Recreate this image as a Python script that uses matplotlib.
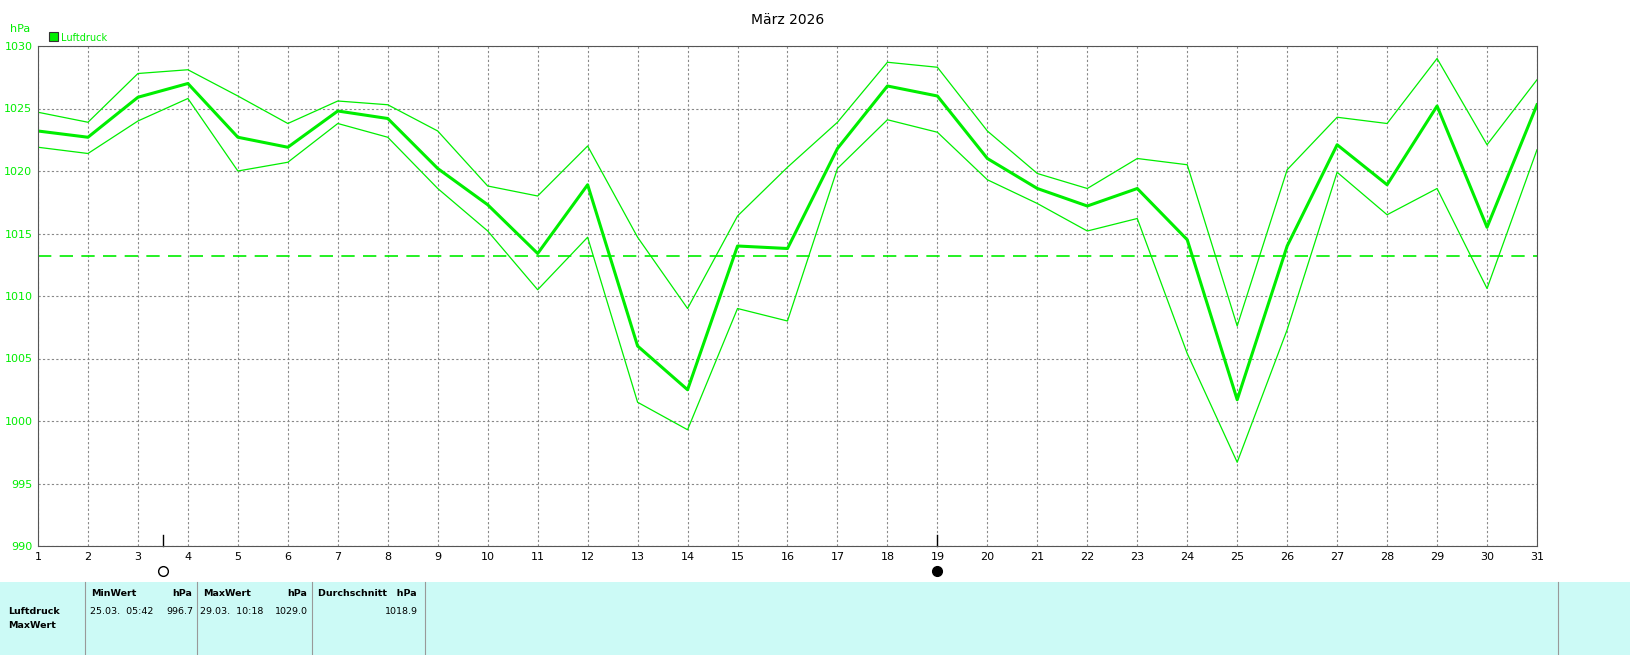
import matplotlib
matplotlib.use("Agg")
import matplotlib.pyplot as plt
from matplotlib.patches import Rectangle

days = list(range(1, 32))
mean_vals = [1023.2,1022.7,1025.9,1027.0,1022.7,1021.9,1024.8,1024.2,1020.2,1017.3,1013.4,1018.9,1006.0,1002.5,1014.0,1013.8,1021.8,1026.8,1026.0,1021.0,1018.6,1017.2,1018.6,1014.5,1001.7,1014.0,1022.1,1018.9,1025.2,1015.5,1025.3]
max_vals = [1024.7,1023.9,1027.8,1028.1,1026.0,1023.8,1025.6,1025.3,1023.2,1018.8,1018.0,1022.0,1014.7,1009.0,1016.4,1020.3,1023.9,1028.7,1028.3,1023.2,1019.8,1018.6,1021.0,1020.5,1007.6,1020.1,1024.3,1023.8,1029.0,1022.1,1027.3]
min_vals = [1021.9,1021.4,1024.0,1025.8,1020.0,1020.7,1023.8,1022.7,1018.6,1015.2,1010.5,1014.7,1001.5,999.3,1009.0,1008.0,1020.2,1024.1,1023.1,1019.3,1017.4,1015.2,1016.2,1005.4,996.7,1007.3,1019.9,1016.5,1018.6,1010.6,1021.7]
avg_line = 1013.2
yticks = list(range(990, 1031, 5))

W, H = 1631, 655
fig = plt.figure(figsize=(W/100, H/100), dpi=100)
ax = fig.add_axes([38/W, 1-546/H, (1537-38)/W, (546-46)/H])
green = "#00ee00"
ax.plot(days, max_vals, color=green, lw=0.9)
ax.plot(days, min_vals, color=green, lw=0.9)
ax.plot(days, mean_vals, color=green, lw=2.2)
ax.axhline(avg_line, color=green, lw=1.2, dashes=(8, 5))
ax.set_xlim(1, 31); ax.set_ylim(990, 1030)
ax.set_xticks(days); ax.set_yticks(yticks)
ax.grid(True, color="#888888", ls=(0, (2, 2)), lw=0.8)
ax.tick_params(labelsize=8, length=0, pad=4)
for t in ax.get_yticklabels():
    t.set_color(green)
for s in ax.spines.values():
    s.set_color("#555555")
ax.set_title("März 2026", fontsize=10, pad=16)
fig.text(10/W, 1-32/H, "hPa", fontsize=8, color=green)
fig.patches.append(Rectangle((49/W, 1-41/H), 9/W, 9/H, transform=fig.transFigure, fc=green, ec="#333333", lw=0.8))
fig.text(61/W, 1-41/H, "Luftdruck", fontsize=7, color=green)
for x, fc in [(3.5, "white"), (19, "black")]:
    ax.plot([x, x], [990, 990.9], color="black", lw=1, clip_on=False)
    ax.plot(x, 988, "o", ms=7, mfc=fc, mec="black", clip_on=False)
fig.patches.append(Rectangle((0, 0), 1, (655-582)/H, transform=fig.transFigure, fc="#ccfaf6", ec="none"))
for xp in [85, 197, 312, 425, 1558]:
    fig.lines.append(plt.Line2D([xp/W, xp/W], [0, (655-582)/H], transform=fig.transFigure, color="#999999", lw=0.8))
def t(x, y, s, **kw):
    fig.text(x/W, 1-y/H, s, fontsize=6.8, va="center", **kw)
t(91, 593, "MinWert", weight="bold"); t(192, 593, "hPa", weight="bold", ha="right")
t(203, 593, "MaxWert", weight="bold"); t(307, 593, "hPa", weight="bold", ha="right")
t(318, 593, "Durchschnitt   hPa", weight="bold")
t(8, 611, "Luftdruck", weight="bold"); t(8, 626, "MaxWert", weight="bold")
t(90, 611, "25.03.  05:42"); t(193, 611, "996.7", ha="right")
t(200, 611, "29.03.  10:18"); t(308, 611, "1029.0", ha="right")
t(418, 611, "1018.9", ha="right")
fig.savefig("out.png", dpi=100)
